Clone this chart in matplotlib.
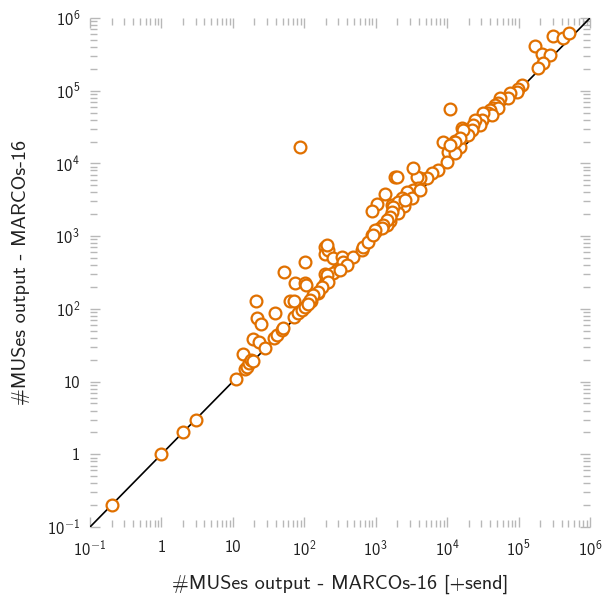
import matplotlib
matplotlib.use('Agg')
import matplotlib.pyplot as plt
from matplotlib.ticker import FixedLocator, FixedFormatter, NullFormatter

plt.rcParams['font.family'] = ['cmss10', 'DejaVu Sans']
plt.rcParams['mathtext.fontset'] = 'custom'
plt.rcParams['mathtext.rm'] = 'cmss10'
plt.rcParams['mathtext.it'] = 'cmss10'
plt.rcParams['mathtext.bf'] = 'cmss10'
plt.rcParams['axes.unicode_minus'] = False

# MUS counts: with [+send] (x) vs plain MARCOs-16 (y)
muses_send = [
    0.2, 1, 2, 3, 11,
    14, 15, 16, 17, 18, 19, 19, 23, 22, 25, 21, 28, 39, 38, 41, 49, 50, 52,
    74, 102, 106, 63, 72, 72, 82, 93, 102, 113, 125, 156, 195, 201, 102,
    195, 195, 215, 195, 205, 87,
    1350, 1040, 890, 1690, 2190, 2570, 2500, 2050, 1560, 1420, 1150, 980, 890,
    208, 252, 337, 348, 481, 643, 664, 780, 287, 252, 208, 215, 177, 156, 132,
    120, 112, 396, 316,
    16000, 8750, 12900, 15100, 10300, 12900, 9950, 7450, 6140, 5220, 4170,
    3780, 3330, 1860, 1990, 3910, 3330, 2740, 2330, 2050, 1750, 1690, 1590,
    1440, 1265, 1225, 977, 916, 3220, 2570, 4170,
    303000, 419000, 508000, 170000, 213000, 275000, 220000, 187000, 11000,
    111700, 98200, 95100, 75900, 71100, 55000, 51500, 46800, 43900, 51500,
    39800, 37300, 42500, 31800, 30800, 28800, 24500, 23000, 22300, 19600,
    16700, 15100, 12900, 11000,
]
muses_plain = [
    0.2, 1, 2, 3, 11,
    24, 15, 16, 18, 20, 19, 38, 35, 75, 62, 130, 29, 88, 40, 44, 51, 54, 320,
    225, 225, 213, 130, 130, 77, 88, 97, 106, 120, 128, 165, 226, 290, 440,
    710, 570, 645, 300, 235, 16800,
    3800, 2770, 2220, 2680, 2950, 3450, 2600, 2080, 1590, 1440, 1290, 1140, 1040,
    755, 500, 516, 440, 516, 645, 709, 830, 342, 311, 292, 234, 200, 171, 155,
    132, 118, 401, 342,
    30700, 19700, 20300, 16800, 14400, 13900, 10500, 8130, 7390, 6300, 6300,
    6510, 8650, 6510, 6510, 4590, 4310, 4040, 3340, 2950, 2520, 2150, 1830,
    1670, 1420, 1294, 1214, 1037, 3340, 3140, 4310,
    565000, 531000, 622000, 412000, 320000, 310000, 240000, 205000, 56000,
    120000, 105700, 96000, 92900, 79400, 79400, 67800, 63600, 57800, 57800,
    54300, 49400, 46300, 49400, 39500, 33800, 39500, 33800, 28800, 24600,
    28800, 22400, 19700, 17900,
]

decades = [1e-1, 1, 10, 1e2, 1e3, 1e4, 1e5, 1e6]
decade_labels = [r'$10^{-1}$', '1', '10', r'$10^{2}$', r'$10^{3}$',
                 r'$10^{4}$', r'$10^{5}$', r'$10^{6}$']
minor_ticks = [m * d for d in decades[:-1] for m in range(2, 10)]

fig = plt.figure(figsize=(6.06, 5.98), dpi=100)
ax = fig.add_axes([90 / 606, 1 - 527 / 598, 500 / 606, 509 / 598])

ax.plot([decades[0], decades[-1]], [decades[0], decades[-1]],
        color='black', linewidth=1.2, zorder=2)
ax.plot(muses_send, muses_plain, linestyle='none', marker='o',
        markersize=8.5, markerfacecolor='white', markeredgecolor='#E07000',
        markeredgewidth=1.6, zorder=3, clip_on=False)

ax.set_xscale('log')
ax.set_yscale('log')
ax.set_xlim(decades[0], decades[-1])
ax.set_ylim(decades[0], decades[-1])

for axis in (ax.xaxis, ax.yaxis):
    axis.set_major_locator(FixedLocator(decades))
    axis.set_major_formatter(FixedFormatter(decade_labels))
    axis.set_minor_locator(FixedLocator(minor_ticks))
    axis.set_minor_formatter(NullFormatter())

for s in ax.spines.values():
    s.set_visible(False)

ax.tick_params(which='both', direction='in', top=True, right=True,
               color='#b8b8b8', width=1.0, labelsize=12, labelcolor='#222222')
ax.tick_params(which='major', length=7.5)
ax.tick_params(which='minor', length=5)
ax.tick_params(axis='x', which='major', pad=9)
ax.tick_params(axis='y', which='major', pad=7)

ax.set_xlabel('#MUSes output - MARCOs-16 [+send]', fontsize=14.5, labelpad=11,
              color='#222222')
ax.set_ylabel('#MUSes output - MARCOs-16', fontsize=14.5, labelpad=12,
              color='#222222')

fig.savefig('out.png', dpi=100)
